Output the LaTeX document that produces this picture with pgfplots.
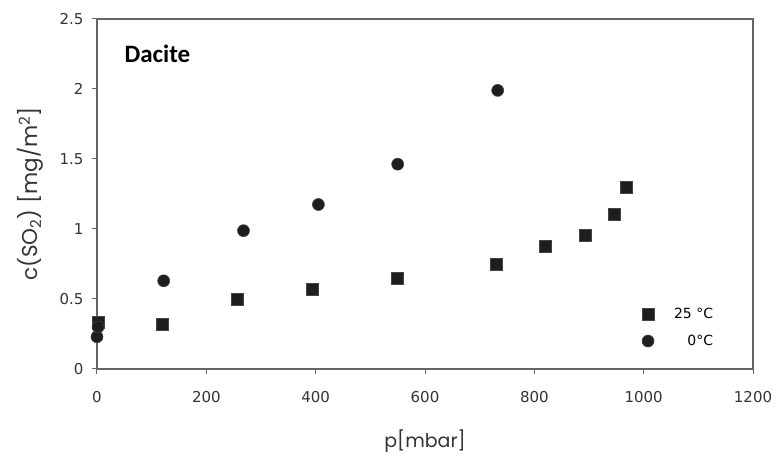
\documentclass[border=0pt]{standalone}
\usepackage{fontspec}
\setmainfont{Liberation Sans}
\newfontfamily\labelfont{Poppins}
\newfontfamily\titlefont{Carlito}
\newfontfamily\numfont{DejaVu Sans}
\usepackage{pgfplots}
\pgfplotsset{compat=1.18}
\usetikzlibrary{calc}
\definecolor{markfill}{HTML}{1E1E1E}
\definecolor{markdraw}{HTML}{444444}
\newcommand{\tickfont}{\numfont\fontsize{15}{17}\selectfont}
\begin{document}
\begin{tikzpicture}
\begin{axis}[
  name=ax,
  scale only axis, width=656pt, height=350pt,
  xmin=0, xmax=1200, ymin=0, ymax=2.5,
  xtick={0,200,...,1200}, ytick={0,0.5,1,1.5,2,2.5},
  tick align=outside, tick pos=left, major tick length=5pt,
  axis line style={draw=black!60, line width=1.2pt},
  every tick/.style={black!60, line width=1pt},
  every tick label/.append style={font=\tickfont, text=black!80},
  xticklabel style={font=\tickfont, yshift=-14pt},
  yticklabel style={font=\tickfont, xshift=-5pt},
  xticklabel={\tickfont\pgfmathprintnumber[1000 sep={},assume math mode=true]{\tick}},
  yticklabel={\tickfont\pgfmathprintnumber[assume math mode=true]{\tick}},
  xlabel={p[mbar]},
  ylabel={c(SO\textsubscript{2}) [mg/m\textsuperscript{2}]},
  xlabel style={font=\labelfont\fontsize{19}{21}\selectfont, text=black!80, at={(axis description cs:0.5,-0.207)}, anchor=center},
  ylabel style={font=\labelfont\fontsize{21.5}{24}\selectfont, text=black!80, at={(axis description cs:-0.102,0.5)}, anchor=center},
  clip=false,
  legend cell align=right,
  legend style={at={(axis cs:1131,0.45)}, anchor=north east, draw=none, fill=none, inner sep=0pt,
    font=\numfont\fontsize{14}{16}\selectfont, row sep=11pt,
    /tikz/every odd column/.style={column sep=18pt}},
]
\addplot[only marks, mark=square*, mark size=6pt, mark options={fill=markfill, draw=markdraw, line width=0.6pt}]
coordinates {(3,0.335) (120,0.32) (256,0.50) (394,0.57) (550,0.648) (730,0.75) (820,0.879) (894,0.956) (947,1.107) (969,1.30)};
\addlegendentry{25 \textdegree C}
\addplot[only marks, mark=*, mark size=6pt, mark options={fill=markfill, draw=markdraw, line width=0.6pt}]
coordinates {(0,0.23) (2,0.30) (122,0.63) (268,0.988) (405,1.175) (550,1.463) (733,1.99)};
\addlegendentry{0\textdegree C}
\node[anchor=base west, font=\titlefont\bfseries\fontsize{25}{28}\selectfont] at (axis cs:44,2.188) {Dacite};
\end{axis}
\path ($(ax.south west)+(-97pt,-88pt)$) rectangle ($(ax.north east)+(23pt,19pt)$);
\end{tikzpicture}
\end{document}
